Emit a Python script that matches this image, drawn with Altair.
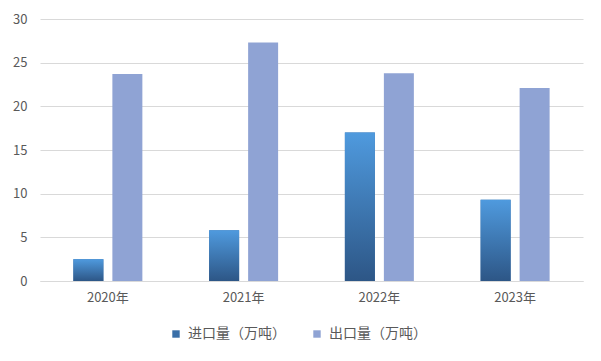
import altair as alt
import pandas as pd

years = ["2020年", "2021年", "2022年", "2023年"]
series = ["进口量（万吨）", "出口量（万吨）"]
imports = [2.5, 5.8, 17.0, 9.3]
exports = [23.7, 27.3, 23.8, 22.1]

rows = []
for i, y in enumerate(years):
    rows.append({"year": y, "series": series[0], "value": imports[i]})
    rows.append({"year": y, "series": series[1], "value": exports[i]})
df = pd.DataFrame(rows)

FONT = "Noto Sans CJK SC"
TXT = "#595959"

x_enc = alt.X("year:N", sort=years, title=None,
              scale=alt.Scale(paddingInner=0, paddingOuter=0),
              axis=alt.Axis(labelAngle=0, ticks=False, labelPadding=10,
                            domainColor="#d9d9d9", labelFontSize=13,
                            labelColor=TXT, labelFont=FONT))
xoff = alt.XOffset("series:N", sort=series,
                   scale=alt.Scale(paddingInner=0.2308, paddingOuter=0.856))
y_enc = alt.Y("value:Q", title=None,
              scale=alt.Scale(domain=[0, 30], nice=False),
              axis=alt.Axis(values=[0, 5, 10, 15, 20, 25, 30], ticks=False,
                            domain=False, gridColor="#d9d9d9", labelPadding=13,
                            labelFontSize=13, labelColor=TXT, labelFont=FONT))

base = alt.Chart(df).mark_bar().encode(
    x=x_enc, xOffset=xoff, y=y_enc,
    color=alt.Color("series:N", sort=series,
                    scale=alt.Scale(domain=series, range=["#3a6fa8", "#8fa3d4"]),
                    legend=alt.Legend(title=None, orient="none", direction="horizontal",
                                      legendX=129, legendY=308, symbolType="square",
                                      symbolSize=55, symbolStrokeWidth=0,
                                      labelFontSize=14, labelColor=TXT, labelFont=FONT,
                                      columnPadding=24, labelOffset=5, labelLimit=200)),
)

grad = alt.Gradient(gradient="linear",
                    stops=[alt.GradientStop(color="#2d5686", offset=0),
                           alt.GradientStop(color="#4f9ade", offset=1)],
                    x1=0, x2=0, y1=1, y2=0)

imp = alt.Chart(df).transform_filter(
    alt.datum.series == series[0]
).mark_bar(fill=grad).encode(x=x_enc, xOffset=xoff, y=y_enc)

chart = alt.layer(base, imp).properties(
    width=543, height=262,
    autosize=alt.AutoSizeParams(type="none"),
    padding={"left": 32, "top": 11, "right": 10, "bottom": 72},
    background="white",
).configure_view(stroke=None)

chart.save("out.html", embed_options={"renderer": "svg", "actions": False})
